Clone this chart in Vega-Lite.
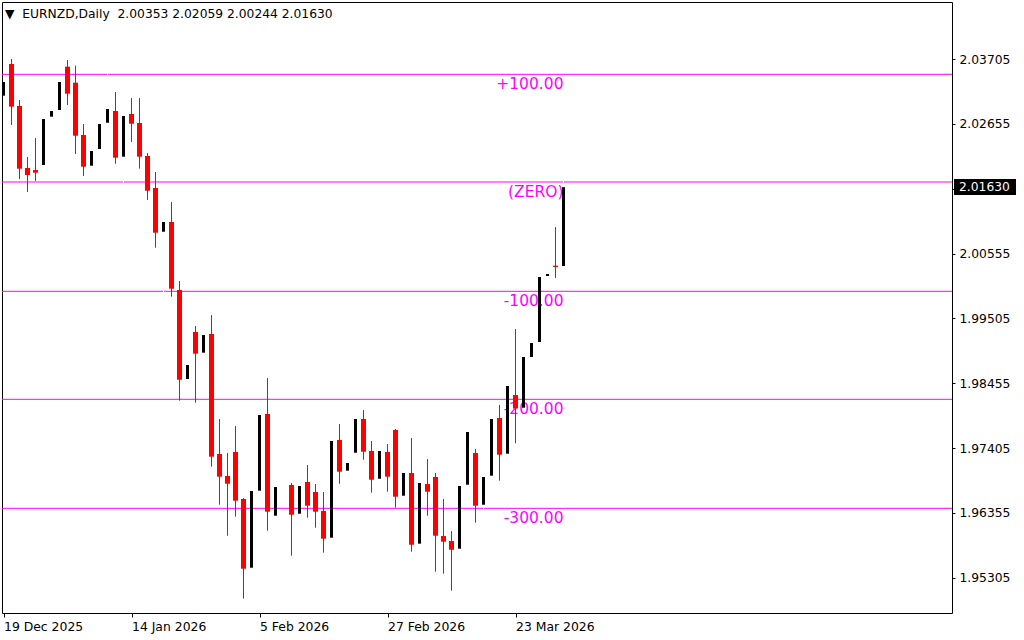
{
"$schema": "https://vega.github.io/schema/vega-lite/v6.json",
"width": 950,
"height": 611,
"autosize": {"type": "none"},
"padding": {"left": 2, "top": 2, "right": 72, "bottom": 27},
"background": "#ffffff",
"config": {
  "view": {"stroke": "#000000", "strokeWidth": 1},
  "font": "DejaVu Sans",
  "axis": {"labelFont": "DejaVu Sans", "labelColor": "#000000", "tickColor": "#000000", "tickWidth": 1, "domain": false, "grid": false, "labelFontSize": 12.3, "labelOverlap": false, "labelFlush": false, "labelBound": false, "title": null}
},
"datasets": {
  "levels": [
    {"v": 2.03457, "t": "+100.00"},
    {"v": 2.01713, "t": "(ZERO)"},
    {"v": 1.99943, "t": "-100.00"},
    {"v": 1.98194, "t": "-200.00"},
    {"v": 1.96429, "t": "-300.00"}
  ],
  "header": [
    {"t": "▼\u00a0\u00a0EURNZD,Daily\u00a0 2.00353 2.02059 2.00244 2.01630"}
  ],
  "candles": [
    {"i": 0, "d": "2025-12-19", "o": 2.03111, "h": 2.03365, "l": 2.03073, "c": 2.03333},
    {"i": 1, "d": "2025-12-22", "o": 2.03624, "h": 2.03705, "l": 2.02636, "c": 2.02933},
    {"i": 2, "d": "2025-12-23", "o": 2.02944, "h": 2.03041, "l": 2.01762, "c": 2.01929},
    {"i": 3, "d": "2025-12-24", "o": 2.01940, "h": 2.02118, "l": 2.01551, "c": 2.01826},
    {"i": 4, "d": "2025-12-26", "o": 2.01907, "h": 2.02426, "l": 2.01729, "c": 2.01864},
    {"i": 5, "d": "2025-12-29", "o": 2.01988, "h": 2.02766, "l": 2.01956, "c": 2.02733},
    {"i": 6, "d": "2025-12-30", "o": 2.02771, "h": 2.02895, "l": 2.02733, "c": 2.02863},
    {"i": 7, "d": "2025-12-31", "o": 2.02879, "h": 2.03381, "l": 2.02847, "c": 2.03333},
    {"i": 8, "d": "2026-01-02", "o": 2.03580, "h": 2.03689, "l": 2.02960, "c": 2.03143},
    {"i": 9, "d": "2026-01-05", "o": 2.03321, "h": 2.03597, "l": 2.02167, "c": 2.02463},
    {"i": 10, "d": "2026-01-06", "o": 2.02474, "h": 2.02652, "l": 2.01810, "c": 2.01961},
    {"i": 11, "d": "2026-01-07", "o": 2.01977, "h": 2.02248, "l": 2.01940, "c": 2.02215},
    {"i": 12, "d": "2026-01-08", "o": 2.02248, "h": 2.02701, "l": 2.02199, "c": 2.02652},
    {"i": 13, "d": "2026-01-09", "o": 2.02673, "h": 2.03511, "l": 2.02636, "c": 2.02895},
    {"i": 14, "d": "2026-01-12", "o": 2.02863, "h": 2.03171, "l": 2.02009, "c": 2.02107},
    {"i": 15, "d": "2026-01-13", "o": 2.02123, "h": 2.02830, "l": 2.01665, "c": 2.02782},
    {"i": 16, "d": "2026-01-14", "o": 2.02814, "h": 2.03073, "l": 2.02361, "c": 2.02657},
    {"i": 17, "d": "2026-01-15", "o": 2.02669, "h": 2.03073, "l": 2.01929, "c": 2.02123},
    {"i": 18, "d": "2026-01-16", "o": 2.02134, "h": 2.02183, "l": 2.01422, "c": 2.01572},
    {"i": 19, "d": "2026-01-19", "o": 2.01616, "h": 2.01875, "l": 2.00649, "c": 2.00892},
    {"i": 20, "d": "2026-01-20", "o": 2.00908, "h": 2.01098, "l": 1.99916, "c": 2.01065},
    {"i": 21, "d": "2026-01-21", "o": 2.01065, "h": 2.01389, "l": 1.99856, "c": 1.99985},
    {"i": 22, "d": "2026-01-22", "o": 1.99964, "h": 2.00110, "l": 1.98171, "c": 1.98511},
    {"i": 23, "d": "2026-01-23", "o": 1.98523, "h": 1.98782, "l": 1.98490, "c": 1.98750},
    {"i": 24, "d": "2026-01-26", "o": 1.99284, "h": 1.99381, "l": 1.98139, "c": 1.98933},
    {"i": 25, "d": "2026-01-27", "o": 1.98949, "h": 1.99268, "l": 1.98912, "c": 1.99235},
    {"i": 26, "d": "2026-01-28", "o": 1.99252, "h": 1.99559, "l": 1.97103, "c": 1.97265},
    {"i": 27, "d": "2026-01-29", "o": 1.97308, "h": 1.97875, "l": 1.96487, "c": 1.96941},
    {"i": 28, "d": "2026-01-30", "o": 1.96952, "h": 1.97324, "l": 1.95985, "c": 1.96827},
    {"i": 29, "d": "2026-02-02", "o": 1.97341, "h": 1.97762, "l": 1.96293, "c": 1.96552},
    {"i": 30, "d": "2026-02-03", "o": 1.96580, "h": 1.96596, "l": 1.94965, "c": 1.95451},
    {"i": 31, "d": "2026-02-04", "o": 1.95467, "h": 1.96741, "l": 1.95430, "c": 1.96709},
    {"i": 32, "d": "2026-02-05", "o": 1.96714, "h": 1.98053, "l": 1.96677, "c": 1.97940},
    {"i": 33, "d": "2026-02-06", "o": 1.97956, "h": 1.98539, "l": 1.96066, "c": 1.96374},
    {"i": 34, "d": "2026-02-09", "o": 1.96309, "h": 1.96806, "l": 1.96272, "c": 1.96774},
    {"i": 35, "d": "2026-02-10", "o": 1.96644, "h": 1.96700, "l": 1.96600, "c": 1.96644},
    {"i": 36, "d": "2026-02-11", "o": 1.96806, "h": 1.96839, "l": 1.95661, "c": 1.96325},
    {"i": 37, "d": "2026-02-12", "o": 1.96341, "h": 1.96822, "l": 1.96304, "c": 1.96790},
    {"i": 38, "d": "2026-02-13", "o": 1.96855, "h": 1.97130, "l": 1.96277, "c": 1.96471},
    {"i": 39, "d": "2026-02-16", "o": 1.96693, "h": 1.96822, "l": 1.96115, "c": 1.96374},
    {"i": 40, "d": "2026-02-17", "o": 1.96385, "h": 1.96693, "l": 1.95710, "c": 1.95937},
    {"i": 41, "d": "2026-02-18", "o": 1.95953, "h": 1.97551, "l": 1.95916, "c": 1.97519},
    {"i": 42, "d": "2026-02-19", "o": 1.97535, "h": 1.97794, "l": 1.96827, "c": 1.97022},
    {"i": 43, "d": "2026-02-20", "o": 1.97038, "h": 1.97195, "l": 1.97000, "c": 1.97163},
    {"i": 44, "d": "2026-02-23", "o": 1.97329, "h": 1.97908, "l": 1.97292, "c": 1.97875},
    {"i": 45, "d": "2026-02-24", "o": 1.97875, "h": 1.98021, "l": 1.97216, "c": 1.97346},
    {"i": 46, "d": "2026-02-25", "o": 1.97357, "h": 1.97519, "l": 1.96682, "c": 1.96892},
    {"i": 47, "d": "2026-02-26", "o": 1.96908, "h": 1.97389, "l": 1.96871, "c": 1.97357},
    {"i": 48, "d": "2026-02-27", "o": 1.97341, "h": 1.97470, "l": 1.96698, "c": 1.96941},
    {"i": 49, "d": "2026-03-02", "o": 1.97697, "h": 1.97713, "l": 1.96439, "c": 1.96617},
    {"i": 50, "d": "2026-03-03", "o": 1.96633, "h": 1.97033, "l": 1.96596, "c": 1.97001},
    {"i": 51, "d": "2026-03-04", "o": 1.97001, "h": 1.97567, "l": 1.95726, "c": 1.95839},
    {"i": 52, "d": "2026-03-05", "o": 1.95856, "h": 1.96871, "l": 1.95818, "c": 1.96839},
    {"i": 53, "d": "2026-03-06", "o": 1.96822, "h": 1.97227, "l": 1.96309, "c": 1.96698},
    {"i": 54, "d": "2026-03-09", "o": 1.96936, "h": 1.97001, "l": 1.95402, "c": 1.95985},
    {"i": 55, "d": "2026-03-10", "o": 1.95980, "h": 1.96580, "l": 1.95370, "c": 1.95888},
    {"i": 56, "d": "2026-03-11", "o": 1.95899, "h": 1.96061, "l": 1.95095, "c": 1.95758},
    {"i": 57, "d": "2026-03-12", "o": 1.95775, "h": 1.96822, "l": 1.95737, "c": 1.96790},
    {"i": 58, "d": "2026-03-13", "o": 1.96811, "h": 1.97697, "l": 1.96774, "c": 1.97665},
    {"i": 59, "d": "2026-03-16", "o": 1.97324, "h": 1.97389, "l": 1.96196, "c": 1.96471},
    {"i": 60, "d": "2026-03-17", "o": 1.96487, "h": 1.96968, "l": 1.96369, "c": 1.96936},
    {"i": 61, "d": "2026-03-18", "o": 1.96957, "h": 1.97908, "l": 1.96920, "c": 1.97875},
    {"i": 62, "d": "2026-03-19", "o": 1.97891, "h": 1.98102, "l": 1.96876, "c": 1.97297},
    {"i": 63, "d": "2026-03-20", "o": 1.97313, "h": 1.98442, "l": 1.97276, "c": 1.98410},
    {"i": 64, "d": "2026-03-23", "o": 1.98264, "h": 1.99333, "l": 1.97482, "c": 1.98045},
    {"i": 65, "d": "2026-03-24", "o": 1.98058, "h": 1.98912, "l": 1.98021, "c": 1.98879},
    {"i": 66, "d": "2026-03-25", "o": 1.98879, "h": 1.99138, "l": 1.98847, "c": 1.99106},
    {"i": 67, "d": "2026-03-26", "o": 1.99122, "h": 2.00207, "l": 1.99090, "c": 2.00175},
    {"i": 68, "d": "2026-03-27", "o": 2.00191, "h": 2.00256, "l": 2.00159, "c": 2.00223},
    {"i": 69, "d": "2026-03-30", "o": 2.00358, "h": 2.00984, "l": 2.00158, "c": 2.00337},
    {"i": 70, "d": "2026-03-31", "o": 2.00353, "h": 2.02059, "l": 2.00244, "c": 2.01630}
  ]
},
"layer": [
  {
    "data": {"name": "levels"},
    "mark": {"type": "rule", "color": "#FF00FF", "strokeWidth": 1},
    "encoding": {
      "y": {"field": "v", "type": "quantitative",
        "scale": {"domain": [1.947335, 2.046281], "nice": false, "zero": false, "padding": 0},
        "axis": {"orient": "right", "values": [2.03705, 2.02655, 2.01605, 2.00555, 1.99505, 1.98455, 1.97405, 1.96355, 1.95305], "labelExpr": "datum.value > 2.016 && datum.value < 2.0162 ? '' : format(datum.value, '.5f')", "tickSize": 3, "labelPadding": 4, "labelAlign": "left", "labelBaseline": "middle"}}
    }
  },
  {
    "data": {"name": "levels"},
    "mark": {"type": "text", "color": "#FF00FF", "font": "DejaVu Sans", "fontSize": 15.5, "align": "right", "baseline": "alphabetic", "dy": 14.5},
    "encoding": {
      "x": {"datum": 70, "type": "quantitative",
        "scale": {"domain": [-0.1875, 118.5625], "nice": false, "zero": false, "padding": 0},
        "axis": {"values": [0, 16, 32, 48, 64], "labelExpr": "datum.value == 0 ? '19 Dec 2025' : datum.value == 16 ? '14 Jan 2026' : datum.value == 32 ? '5 Feb 2026' : datum.value == 48 ? '27 Feb 2026' : '23 Mar 2026'", "labelAlign": "left", "tickSize": 4, "labelPadding": 3, "labelFontSize": 12.4}},
      "y": {"field": "v", "type": "quantitative"},
      "text": {"field": "t"}
    }
  },
  {
    "data": {"name": "candles"},
    "mark": {"type": "rule", "strokeWidth": 1},
    "encoding": {
      "x": {"field": "i", "type": "quantitative"},
      "y": {"field": "l", "type": "quantitative"},
      "y2": {"field": "h"},
      "color": {"condition": {"test": "datum.c >= datum.o", "value": "#FFFFFF"}, "value": "#FF0000"}
    }
  },
  {
    "data": {"name": "candles"},
    "mark": {"type": "bar"},
    "encoding": {
      "x": {"field": "i", "type": "quantitative"},
      "y": {"field": "o", "type": "quantitative"},
      "y2": {"field": "c"},
      "color": {"condition": {"test": "datum.c >= datum.o", "value": "#000000"}, "value": "#FF0000"},
      "size": {"condition": {"test": "datum.c >= datum.o", "value": 3}, "value": 5}
    }
  },
  {
    "data": {"values": [{"p": 2.0163}]},
    "mark": {"type": "rect", "color": "#000000"},
    "encoding": {
      "x": {"datum": 118.8125, "type": "quantitative"},
      "x2": {"datum": 126.5625},
      "y": {"datum": 2.017617, "type": "quantitative"},
      "y2": {"datum": 2.015026}
    }
  },
  {
    "data": {"values": [{"p": 2.0163}]},
    "mark": {"type": "text", "color": "#FFFFFF", "font": "DejaVu Sans", "fontSize": 12.3, "align": "left", "baseline": "middle"},
    "encoding": {
      "x": {"datum": 119.4375, "type": "quantitative"},
      "y": {"field": "p", "type": "quantitative"},
      "text": {"field": "p", "type": "quantitative", "format": ".5f"}
    }
  },
  {
    "data": {"name": "header"},
    "mark": {"type": "text", "color": "#000000", "font": "DejaVu Sans", "fontSize": 12.3, "align": "left", "baseline": "alphabetic", "dx": 3, "dy": 16},
    "encoding": {
      "x": {"datum": -0.1875, "type": "quantitative"},
      "y": {"datum": 2.046281, "type": "quantitative"},
      "text": {"field": "t"}
    }
  }
]
}
